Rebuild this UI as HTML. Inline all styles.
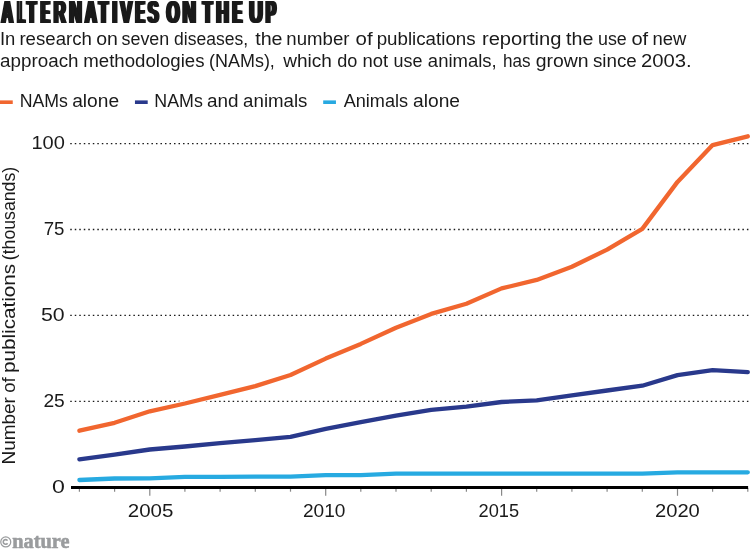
<!DOCTYPE html>
<html><head><meta charset="utf-8"><title>Alternatives on the up</title>
<style>
html,body{margin:0;padding:0;background:#fff;}
svg{display:block}
text{font-family:"Liberation Sans",sans-serif;fill:#1a1a1a}
</style></head><body>
<svg width="751" height="558" viewBox="0 0 751 558" style="will-change:transform">
<rect width="751" height="558" fill="#fff"/>
<g style="font-weight:bold;font-size:32px;fill:#1d1d1f"><text transform="translate(-0.09,23) scale(0.4897,1)">A</text><text transform="translate(1.00,23) scale(0.4897,1)">A</text><text transform="translate(2.10,23) scale(0.4897,1)">A</text><text transform="translate(3.19,23) scale(0.4897,1)">A</text>
<text transform="translate(16.03,23) scale(0.3269,1)">L</text><text transform="translate(17.35,23) scale(0.3269,1)">L</text><text transform="translate(18.67,23) scale(0.3269,1)">L</text><text transform="translate(19.99,23) scale(0.3269,1)">L</text>
<text transform="translate(25.39,23) scale(0.467,1)">T</text><text transform="translate(26.51,23) scale(0.467,1)">T</text><text transform="translate(27.62,23) scale(0.467,1)">T</text><text transform="translate(28.74,23) scale(0.467,1)">T</text>
<text transform="translate(39.36,23) scale(0.3933,1)">E</text><text transform="translate(40.58,23) scale(0.3933,1)">E</text><text transform="translate(41.81,23) scale(0.3933,1)">E</text><text transform="translate(43.03,23) scale(0.3933,1)">E</text>
<text transform="translate(52.21,23) scale(0.5187,1)">R</text><text transform="translate(53.25,23) scale(0.5187,1)">R</text><text transform="translate(54.30,23) scale(0.5187,1)">R</text><text transform="translate(55.34,23) scale(0.5187,1)">R</text>
<text transform="translate(67.76,23) scale(0.545,1)">N</text><text transform="translate(68.77,23) scale(0.545,1)">N</text><text transform="translate(69.77,23) scale(0.545,1)">N</text><text transform="translate(70.78,23) scale(0.545,1)">N</text>
<text transform="translate(83.52,23) scale(0.4998,1)">A</text><text transform="translate(84.59,23) scale(0.4998,1)">A</text><text transform="translate(85.67,23) scale(0.4998,1)">A</text><text transform="translate(86.74,23) scale(0.4998,1)">A</text>
<text transform="translate(97.33,23) scale(0.4589,1)">T</text><text transform="translate(98.46,23) scale(0.4589,1)">T</text><text transform="translate(99.58,23) scale(0.4589,1)">T</text><text transform="translate(100.71,23) scale(0.4589,1)">T</text>
<text transform="translate(110.95,23) scale(0.4823,1)">I</text><text transform="translate(112.02,23) scale(0.4823,1)">I</text><text transform="translate(113.09,23) scale(0.4823,1)">I</text><text transform="translate(114.16,23) scale(0.4823,1)">I</text>
<text transform="translate(118.92,23) scale(0.5417,1)">V</text><text transform="translate(119.93,23) scale(0.5417,1)">V</text><text transform="translate(120.94,23) scale(0.5417,1)">V</text><text transform="translate(121.95,23) scale(0.5417,1)">V</text>
<text transform="translate(133.93,23) scale(0.4137,1)">E</text><text transform="translate(135.14,23) scale(0.4137,1)">E</text><text transform="translate(136.36,23) scale(0.4137,1)">E</text><text transform="translate(137.57,23) scale(0.4137,1)">E</text>
<text transform="translate(146.35,23) scale(0.5014,1)">S</text><text transform="translate(147.43,23) scale(0.5014,1)">S</text><text transform="translate(148.51,23) scale(0.5014,1)">S</text><text transform="translate(149.59,23) scale(0.5014,1)">S</text>
<text transform="translate(165.05,23) scale(0.5189,1)">O</text><text transform="translate(166.10,23) scale(0.5189,1)">O</text><text transform="translate(167.16,23) scale(0.5189,1)">O</text><text transform="translate(168.21,23) scale(0.5189,1)">O</text>
<text transform="translate(181.03,23) scale(0.5831,1)">N</text><text transform="translate(182.00,23) scale(0.5831,1)">N</text><text transform="translate(182.96,23) scale(0.5831,1)">N</text><text transform="translate(183.93,23) scale(0.5831,1)">N</text>
<text transform="translate(201.30,23) scale(0.4846,1)">T</text><text transform="translate(202.41,23) scale(0.4846,1)">T</text><text transform="translate(203.51,23) scale(0.4846,1)">T</text><text transform="translate(204.62,23) scale(0.4846,1)">T</text>
<text transform="translate(214.83,23) scale(0.5394,1)">H</text><text transform="translate(215.85,23) scale(0.5394,1)">H</text><text transform="translate(216.86,23) scale(0.5394,1)">H</text><text transform="translate(217.88,23) scale(0.5394,1)">H</text>
<text transform="translate(231.02,23) scale(0.4312,1)">E</text><text transform="translate(232.19,23) scale(0.4312,1)">E</text><text transform="translate(233.36,23) scale(0.4312,1)">E</text><text transform="translate(234.53,23) scale(0.4312,1)">E</text>
<text transform="translate(247.79,23) scale(0.5871,1)">U</text><text transform="translate(248.75,23) scale(0.5871,1)">U</text><text transform="translate(249.71,23) scale(0.5871,1)">U</text><text transform="translate(250.67,23) scale(0.5871,1)">U</text>
<text transform="translate(264.18,23) scale(0.4742,1)">P</text><text transform="translate(265.28,23) scale(0.4742,1)">P</text><text transform="translate(266.37,23) scale(0.4742,1)">P</text><text transform="translate(267.47,23) scale(0.4742,1)">P</text>
</g>
<text x="-0.03" y="45" textLength="15.39" lengthAdjust="spacingAndGlyphs" font-size="17.5">In</text>
<text x="19.41" y="45" textLength="72.46" lengthAdjust="spacingAndGlyphs" font-size="17.5">research</text>
<text x="96.16" y="45" textLength="21.67" lengthAdjust="spacingAndGlyphs" font-size="17.5">on</text>
<text x="121.51" y="45" textLength="47.7" lengthAdjust="spacingAndGlyphs" font-size="17.5">seven</text>
<text x="174.05" y="45" textLength="73.98" lengthAdjust="spacingAndGlyphs" font-size="17.5">diseases,</text>
<text x="255.18" y="45" textLength="27.35" lengthAdjust="spacingAndGlyphs" font-size="17.5">the</text>
<text x="286.33" y="45" textLength="63.13" lengthAdjust="spacingAndGlyphs" font-size="17.5">number</text>
<text x="355.59" y="45" textLength="17.04" lengthAdjust="spacingAndGlyphs" font-size="17.5">of</text>
<text x="376.68" y="45" textLength="98.9" lengthAdjust="spacingAndGlyphs" font-size="17.5">publications</text>
<text x="481.95" y="45" textLength="79.53" lengthAdjust="spacingAndGlyphs" font-size="17.5">reporting</text>
<text x="566.14" y="45" textLength="27.32" lengthAdjust="spacingAndGlyphs" font-size="17.5">the</text>
<text x="597.96" y="45" textLength="28.78" lengthAdjust="spacingAndGlyphs" font-size="17.5">use</text>
<text x="631.4" y="45" textLength="16.75" lengthAdjust="spacingAndGlyphs" font-size="17.5">of</text>
<text x="652.58" y="45" textLength="33.88" lengthAdjust="spacingAndGlyphs" font-size="17.5">new</text>
<text x="0.13" y="67" textLength="78.39" lengthAdjust="spacingAndGlyphs" font-size="17.5">approach</text>
<text x="83.33" y="67" textLength="121.12" lengthAdjust="spacingAndGlyphs" font-size="17.5">methodologies</text>
<text x="209.12" y="67" textLength="65.74" lengthAdjust="spacingAndGlyphs" font-size="17.5">(NAMs),</text>
<text x="283.23" y="67" textLength="48.63" lengthAdjust="spacingAndGlyphs" font-size="17.5">which</text>
<text x="337.23" y="67" textLength="20.13" lengthAdjust="spacingAndGlyphs" font-size="17.5">do</text>
<text x="362.56" y="67" textLength="25.67" lengthAdjust="spacingAndGlyphs" font-size="17.5">not</text>
<text x="393.55" y="67" textLength="28.88" lengthAdjust="spacingAndGlyphs" font-size="17.5">use</text>
<text x="427.88" y="67" textLength="68.84" lengthAdjust="spacingAndGlyphs" font-size="17.5">animals,</text>
<text x="502.93" y="67" textLength="27.56" lengthAdjust="spacingAndGlyphs" font-size="17.5">has</text>
<text x="535.71" y="67" textLength="52.87" lengthAdjust="spacingAndGlyphs" font-size="17.5">grown</text>
<text x="592.93" y="67" textLength="43.87" lengthAdjust="spacingAndGlyphs" font-size="17.5">since</text>
<text x="641.05" y="67" textLength="50.69" lengthAdjust="spacingAndGlyphs" font-size="17.5">2003.</text>
<text x="19.66" y="107" textLength="48.2" lengthAdjust="spacingAndGlyphs" font-size="17.5">NAMs</text>
<text x="72.15" y="107" textLength="46.94" lengthAdjust="spacingAndGlyphs" font-size="17.5">alone</text>
<text x="154.36" y="107" textLength="48.47" lengthAdjust="spacingAndGlyphs" font-size="17.5">NAMs</text>
<text x="207.12" y="107" textLength="31.51" lengthAdjust="spacingAndGlyphs" font-size="17.5">and</text>
<text x="243.14" y="107" textLength="64.3" lengthAdjust="spacingAndGlyphs" font-size="17.5">animals</text>
<text x="343.67" y="107" textLength="64.45" lengthAdjust="spacingAndGlyphs" font-size="17.5">Animals</text>
<text x="413.02" y="107" textLength="47.0" lengthAdjust="spacingAndGlyphs" font-size="17.5">alone</text>
<text x="31.47" y="149" textLength="33.47" lengthAdjust="spacingAndGlyphs" font-size="18.5">100</text>
<text x="43.74" y="235" textLength="20.76" lengthAdjust="spacingAndGlyphs" font-size="18.5">75</text>
<text x="40.96" y="321" textLength="23.7" lengthAdjust="spacingAndGlyphs" font-size="18.5">50</text>
<text x="43.44" y="407" textLength="21.36" lengthAdjust="spacingAndGlyphs" font-size="18.5">25</text>
<text x="51.95" y="493" textLength="12.88" lengthAdjust="spacingAndGlyphs" font-size="18.5">0</text>
<text x="127.77" y="517" textLength="45.62" lengthAdjust="spacingAndGlyphs" font-size="18.5">2005</text>
<text x="302.94" y="517" textLength="42.44" lengthAdjust="spacingAndGlyphs" font-size="18.5">2010</text>
<text x="478.57" y="517" textLength="40.56" lengthAdjust="spacingAndGlyphs" font-size="18.5">2015</text>
<text x="654.97" y="517" textLength="44.86" lengthAdjust="spacingAndGlyphs" font-size="18.5">2020</text>
<rect x="0" y="100.4" width="12.75" height="3.6" fill="#f1662f"/>
<rect x="134.95" y="100.4" width="12.75" height="3.6" fill="#29398c"/>
<rect x="323.2" y="100.4" width="12.75" height="3.6" fill="#27a9e1"/>
<line x1="70.25" x2="749" y1="143.6" y2="143.6" stroke="#1a1a1a" stroke-width="1.3" stroke-dasharray="1.5 3.011"/>
<line x1="70.25" x2="749" y1="229.5" y2="229.5" stroke="#1a1a1a" stroke-width="1.3" stroke-dasharray="1.5 3.011"/>
<line x1="70.25" x2="749" y1="315.4" y2="315.4" stroke="#1a1a1a" stroke-width="1.3" stroke-dasharray="1.5 3.011"/>
<line x1="70.25" x2="749" y1="401.4" y2="401.4" stroke="#1a1a1a" stroke-width="1.3" stroke-dasharray="1.5 3.011"/>

<g transform="translate(15,0) rotate(-90)">
<text x="-464.45" y="0" textLength="67.36" lengthAdjust="spacingAndGlyphs" font-size="17.5">Number</text>
<text x="-392.67" y="0" textLength="15.41" lengthAdjust="spacingAndGlyphs" font-size="17.5">of</text>
<text x="-373.00" y="0" textLength="109.18" lengthAdjust="spacingAndGlyphs" font-size="17.5">publications</text>
<text x="-260.20" y="0" textLength="93.29" lengthAdjust="spacingAndGlyphs" font-size="17.5">(thousands)</text>
</g>
<g fill="none" stroke="#fff" stroke-width="6.7" stroke-linejoin="round" stroke-linecap="round"><polyline points="79.4,480.0 114.6,478.5 149.8,478.3 184.9,476.8 220.1,476.8 255.3,476.7 290.5,476.7 325.7,475.2 360.8,475.2 396.0,473.7 431.2,473.7 466.4,473.7 501.6,473.7 536.7,473.6 571.9,473.6 607.1,473.6 642.3,473.7 677.5,472.3 712.6,472.3 747.8,472.3"/><polyline points="79.4,459.3 114.6,454.6 149.8,449.5 184.9,446.5 220.1,443.2 255.3,440.1 290.5,436.8 325.7,428.8 360.8,422.1 396.0,415.6 431.2,409.8 466.4,406.6 501.6,402.0 536.7,400.3 571.9,395.4 607.1,390.5 642.3,385.7 677.5,375.1 712.6,370.1 747.8,372.1"/><polyline points="79.4,430.7 114.6,422.8 149.8,411.3 184.9,403.5 220.1,394.8 255.3,386.1 290.5,375.0 325.7,358.6 360.8,343.9 396.0,327.7 431.2,313.9 466.4,303.7 501.6,288.4 536.7,279.9 571.9,266.7 607.1,249.6 642.3,228.9 677.5,181.9 712.6,145.1 747.8,136.3"/></g>
<polyline points="79.4,480.0 114.6,478.5 149.8,478.3 184.9,476.8 220.1,476.8 255.3,476.7 290.5,476.7 325.7,475.2 360.8,475.2 396.0,473.7 431.2,473.7 466.4,473.7 501.6,473.7 536.7,473.6 571.9,473.6 607.1,473.6 642.3,473.7 677.5,472.3 712.6,472.3 747.8,472.3" fill="none" stroke="#27aae1" stroke-width="4.3" stroke-linejoin="round" stroke-linecap="round"/>
<polyline points="79.4,459.3 114.6,454.6 149.8,449.5 184.9,446.5 220.1,443.2 255.3,440.1 290.5,436.8 325.7,428.8 360.8,422.1 396.0,415.6 431.2,409.8 466.4,406.6 501.6,402.0 536.7,400.3 571.9,395.4 607.1,390.5 642.3,385.7 677.5,375.1 712.6,370.1 747.8,372.1" fill="none" stroke="#29398c" stroke-width="4.3" stroke-linejoin="round" stroke-linecap="round"/>
<polyline points="79.4,430.7 114.6,422.8 149.8,411.3 184.9,403.5 220.1,394.8 255.3,386.1 290.5,375.0 325.7,358.6 360.8,343.9 396.0,327.7 431.2,313.9 466.4,303.7 501.6,288.4 536.7,279.9 571.9,266.7 607.1,249.6 642.3,228.9 677.5,181.9 712.6,145.1 747.8,136.3" fill="none" stroke="#f1662f" stroke-width="4.3" stroke-linejoin="round" stroke-linecap="round"/>
<line x1="79.4" x2="79.4" y1="488" y2="491.7" stroke="#888" stroke-width="1.2"/>
<line x1="114.6" x2="114.6" y1="488" y2="491.7" stroke="#888" stroke-width="1.2"/>
<line x1="149.8" x2="149.8" y1="488" y2="495.8" stroke="#888" stroke-width="1.2"/>
<line x1="184.9" x2="184.9" y1="488" y2="491.7" stroke="#888" stroke-width="1.2"/>
<line x1="220.1" x2="220.1" y1="488" y2="491.7" stroke="#888" stroke-width="1.2"/>
<line x1="255.3" x2="255.3" y1="488" y2="491.7" stroke="#888" stroke-width="1.2"/>
<line x1="290.5" x2="290.5" y1="488" y2="491.7" stroke="#888" stroke-width="1.2"/>
<line x1="325.7" x2="325.7" y1="488" y2="495.8" stroke="#888" stroke-width="1.2"/>
<line x1="360.8" x2="360.8" y1="488" y2="491.7" stroke="#888" stroke-width="1.2"/>
<line x1="396.0" x2="396.0" y1="488" y2="491.7" stroke="#888" stroke-width="1.2"/>
<line x1="431.2" x2="431.2" y1="488" y2="491.7" stroke="#888" stroke-width="1.2"/>
<line x1="466.4" x2="466.4" y1="488" y2="491.7" stroke="#888" stroke-width="1.2"/>
<line x1="501.6" x2="501.6" y1="488" y2="495.8" stroke="#888" stroke-width="1.2"/>
<line x1="536.7" x2="536.7" y1="488" y2="491.7" stroke="#888" stroke-width="1.2"/>
<line x1="571.9" x2="571.9" y1="488" y2="491.7" stroke="#888" stroke-width="1.2"/>
<line x1="607.1" x2="607.1" y1="488" y2="491.7" stroke="#888" stroke-width="1.2"/>
<line x1="642.3" x2="642.3" y1="488" y2="491.7" stroke="#888" stroke-width="1.2"/>
<line x1="677.5" x2="677.5" y1="488" y2="495.8" stroke="#888" stroke-width="1.2"/>
<line x1="712.6" x2="712.6" y1="488" y2="491.7" stroke="#888" stroke-width="1.2"/>
<line x1="747.8" x2="747.8" y1="488" y2="491.7" stroke="#888" stroke-width="1.2"/>

<line x1="71" x2="748.1" y1="487.5" y2="487.5" stroke="#000" stroke-width="3"/>
<g fill="none" stroke="#9a9c9e"><circle cx="5.75" cy="541.95" r="5.0" stroke-width="1.25"/><path d="M7.55 540.6 A2.35 2.35 0 1 0 7.55 543.3" stroke-width="1.6"/></g>
<text x="12.27" y="548" textLength="57.16" lengthAdjust="spacingAndGlyphs" style="font-family:'Liberation Serif',serif;font-weight:bold;font-size:22px;fill:#9a9c9e;stroke:#9a9c9e;stroke-width:0.6px">nature</text>
</svg>
</body></html>
